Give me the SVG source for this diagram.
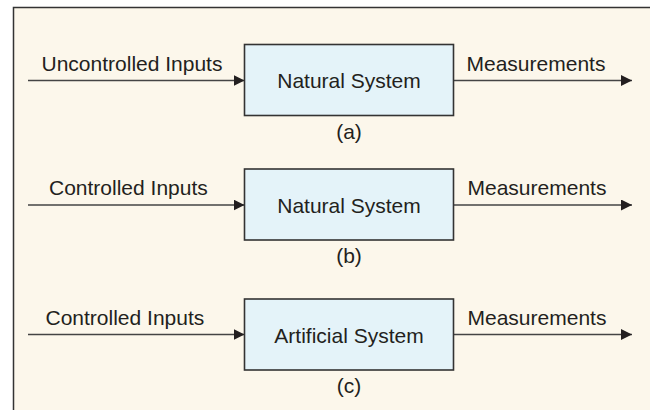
<svg xmlns="http://www.w3.org/2000/svg" width="650" height="410" viewBox="0 0 650 410">
<defs>
<style>
.frame{fill:#fcf7eb;stroke:none}
.edge{stroke:#333;stroke-width:1.5;fill:none}
.box{fill:#e4f3f9;stroke:#333;stroke-width:1.6}
.conn{stroke:#444;stroke-width:1.6;fill:none;marker-end:url(#ah)}
text{font-family:"Liberation Sans",Arial,sans-serif;font-size:21px;fill:#231f20}
.c{text-anchor:middle}
</style>
<marker id="ah" viewBox="0 0 10 10" refX="10" refY="5" markerUnits="userSpaceOnUse" markerWidth="11" markerHeight="11" orient="auto">
<path d="M0,0 L10,5 L0,10 Z" fill="#231f20"/>
</marker>
</defs>
<rect width="650" height="410" fill="#ffffff"/>
<rect class="frame" x="13.5" y="7.5" width="637" height="403"/>
<path class="edge" d="M13.5,410 V7.5 H650"/>
<g id="connectors">
<line class="conn" x1="28" y1="80.5" x2="244.5" y2="80.5"/>
<line class="conn" x1="453.5" y1="80.5" x2="632" y2="80.5"/>
<line class="conn" x1="28" y1="205" x2="244.5" y2="205"/>
<line class="conn" x1="453.5" y1="205" x2="632" y2="205"/>
<line class="conn" x1="28" y1="334.5" x2="244.5" y2="334.5"/>
<line class="conn" x1="453.5" y1="334.5" x2="632" y2="334.5"/>
<text x="41.5" y="71">Uncontrolled Inputs</text>
<text x="466.5" y="71">Measurements</text>
<text x="49" y="195">Controlled Inputs</text>
<text x="467.5" y="195">Measurements</text>
<text x="45.5" y="325">Controlled Inputs</text>
<text x="467.5" y="325">Measurements</text>
</g>
<g id="node-a">
<rect class="box" x="244.5" y="44.5" width="209" height="71"/>
<text class="c" x="349" y="88">Natural System</text>
<text class="c" x="349" y="138.5">(a)</text>
</g>
<g id="node-b">
<rect class="box" x="244.5" y="169" width="209" height="71"/>
<text class="c" x="349" y="212.5">Natural System</text>
<text class="c" x="349" y="263">(b)</text>
</g>
<g id="node-c">
<rect class="box" x="244.5" y="299" width="209" height="71"/>
<text class="c" x="349" y="343">Artificial System</text>
<text class="c" x="349" y="392.5">(c)</text>
</g>
</svg>
